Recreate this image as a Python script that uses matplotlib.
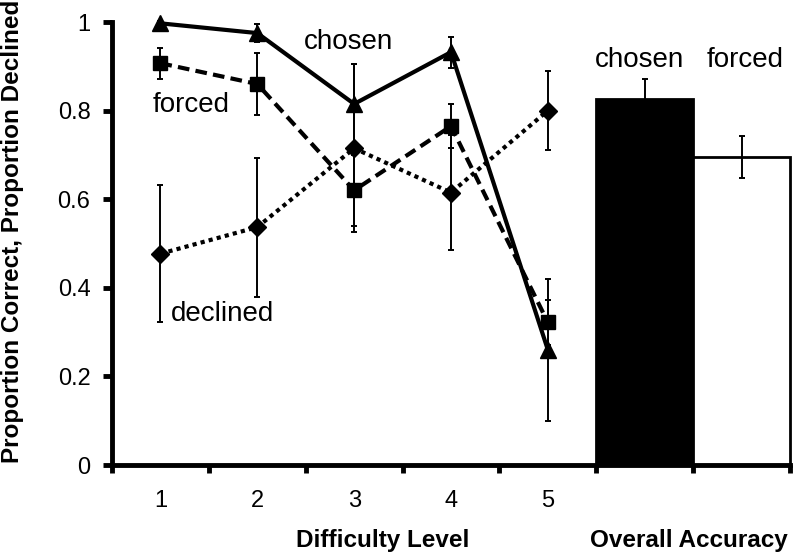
import matplotlib
matplotlib.use("Agg")
import matplotlib.pyplot as plt

plt.rcParams['font.family'] = ['Liberation Sans', 'DejaVu Sans']

levels = [1, 2, 3, 4, 5]
chosen = [0.997, 0.975, 0.815, 0.932, 0.26]
chosen_err = [0.005, 0.02, 0.09, 0.035, 0.16]
forced = [0.907, 0.860, 0.620, 0.765, 0.322]
forced_err = [0.035, 0.07, 0.08, 0.05, 0.05]
declined = [0.477, 0.537, 0.715, 0.615, 0.800]
declined_err = [0.155, 0.157, 0.19, 0.13, 0.09]

bar_labels = ["chosen", "forced"]
bar_values = [0.827, 0.695]
bar_err = [0.045, 0.047]
bar_pos = [6, 7]

yticks = [0, 0.2, 0.4, 0.6, 0.8, 1]
ytick_labels = ["0", "0.2", "0.4", "0.6", "0.8", "1"]

fig = plt.figure(figsize=(8, 5.6), dpi=100)
ax = fig.add_axes([0.14, 0.1696, 0.8475, 0.7911])

ekw = dict(ecolor='black', elinewidth=1.4, capsize=2.5, capthick=1.4)
l1 = ax.errorbar(levels, declined, yerr=declined_err, color='black', lw=3,
                 linestyle=(0, (1, 1)), marker='D', ms=9, mfc='black', mec='black', **ekw)
l2 = ax.errorbar(levels, forced, yerr=forced_err, color='black', lw=3,
                 linestyle=(0, (2.8, 1.5)), marker='s', ms=10, mfc='black', mec='black', **ekw)
l3 = ax.errorbar(levels, chosen, yerr=chosen_err, color='black', lw=3,
                 linestyle='-', marker='^', ms=11, mfc='black', mec='black', **ekw)
for cont in (l1, l2, l3):
    cont[0].set_clip_on(False)
    for c in cont[1]:
        c.set_clip_on(False)
    for c in cont[2]:
        c.set_clip_on(False)

bars = ax.bar(bar_pos, bar_values, width=1.0, color=['black', 'white'],
              edgecolor='black', linewidth=2, zorder=2)
for b in bars:
    b.set_clip_on(False)
ax.errorbar(bar_pos, bar_values, yerr=bar_err, fmt='none', zorder=3, **ekw)

ax.set_xlim(0.5, 7.5)
ax.set_ylim(0, 1)
ax.set_yticks(yticks)
ax.set_yticklabels(ytick_labels, fontsize=17)
ax.set_xticks([i + 0.5 for i in range(0, 8)])
ax.set_xticklabels([])
ax.set_xticks(levels, minor=True)
ax.set_xticklabels([str(l) for l in levels], minor=True, fontsize=17)
ax.tick_params(axis='x', which='minor', length=0, pad=18)
ax.tick_params(axis='x', which='major', length=6, width=3.5, direction='out')
ax.tick_params(axis='y', length=6.5, width=3.5, direction='out', pad=9)

for s in ['top', 'right']:
    ax.spines[s].set_visible(False)
for s in ['left', 'bottom']:
    ax.spines[s].set_linewidth(3.5)

ax.text(2.943, 0.955, "chosen", fontsize=20, ha='center', va='center')
ax.text(1.32, 0.813, "forced", fontsize=20, ha='center', va='center')
ax.text(1.644, 0.34, "declined", fontsize=20, ha='center', va='center')
bar_text_x = [5.95, 7.04]
for p, l in zip(bar_text_x, bar_labels):
    ax.text(p, 0.914, l, fontsize=20, ha='center', va='center')

fig.text(13/800, 1 - 231/560, "Proportion Correct, Proportion Declined", fontsize=17.5,
         fontweight='bold', ha='center', va='center', rotation=90)
fig.text(383/800, 1 - 541/560, "Difficulty Level", fontsize=17.5,
         fontweight='bold', ha='center', va='center')
fig.text(689/800, 1 - 541/560, "Overall Accuracy", fontsize=17.5,
         fontweight='bold', ha='center', va='center')

fig.savefig("out.png", dpi=100)
